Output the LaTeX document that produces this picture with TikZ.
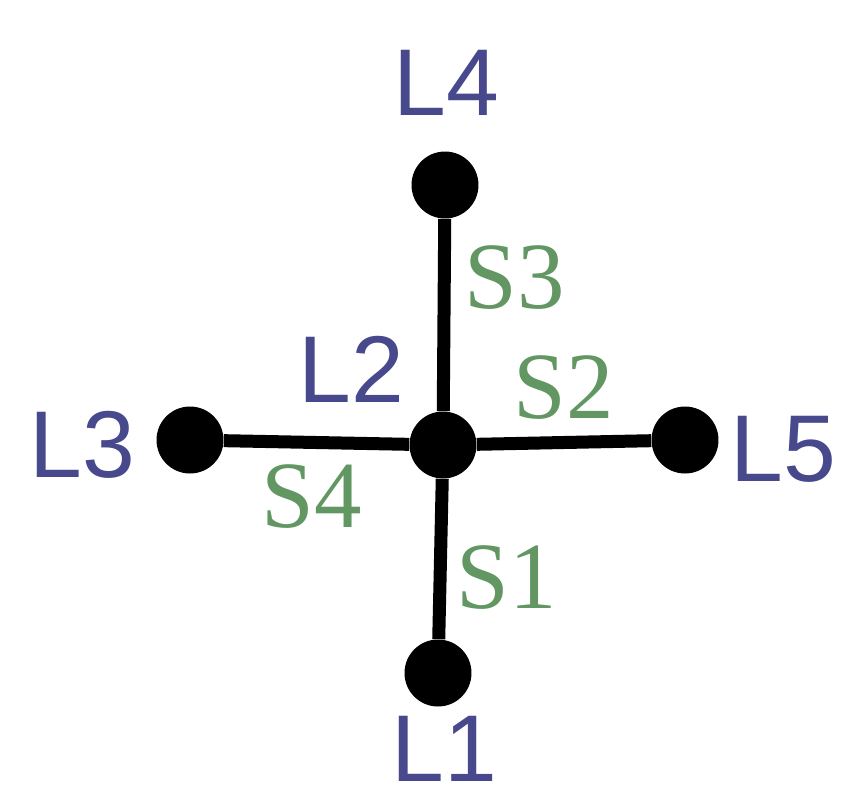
\documentclass[tikz,border=0pt]{standalone}
\usepackage{fontspec}
\setmainfont{Liberation Sans}
\newfontfamily\segfont{Liberation Serif}
\usepackage{tikz}
\usetikzlibrary{positioning}
\definecolor{nodeblue}{RGB}{72,72,140}
\definecolor{seggreen}{RGB}{98,150,98}
\tikzset{
  dotnode/.style={circle,fill=black,minimum size=1.34cm,inner sep=0pt},
  lname/.style={anchor=base west,inner sep=0pt,text depth=0pt,text=nodeblue,font=\fontsize{54}{60}\selectfont},
  sname/.style={anchor=base west,inner sep=0pt,text depth=0pt,text=seggreen,font=\segfont\fontsize{54}{60}\selectfont},
  wire/.style={line width=7.4pt}
}

\begin{document}
\begin{tikzpicture}[x=0.02cm,y=-0.02cm]
\useasboundingbox (0,0) rectangle (853,802);

\node[dotnode] (L2) at (443,445) {};
\node[dotnode] (L4) at (445,185) {};
\node[dotnode] (L1) at (438,673) {};
\node[dotnode] (L3) at (190,440) {};
\node[dotnode] (L5) at (685,440) {};

\draw[wire] (L4)--(L2);
\draw[wire] (L2)--(L1);
\draw[wire] (L3)--(L2);
\draw[wire] (L2)--(L5);

\node[lname] (t4) at (393,115) {L4};
\node[lname] (t2) at (298,402) {L2};
\node[lname] (t3) at (29,477) {L3};
\node[lname] (t5) at (730,481) {L5};
\node[lname] (t1) at (391,781) {L1};

\node[sname] (s3) at (464,308) {S3};
\node[sname] (s2) at (513,418) {S2};
\node[sname] (s4) at (261,527) {S4};
\node[sname] (s1) at (456,608) {S1};

\end{tikzpicture}
\end{document}
